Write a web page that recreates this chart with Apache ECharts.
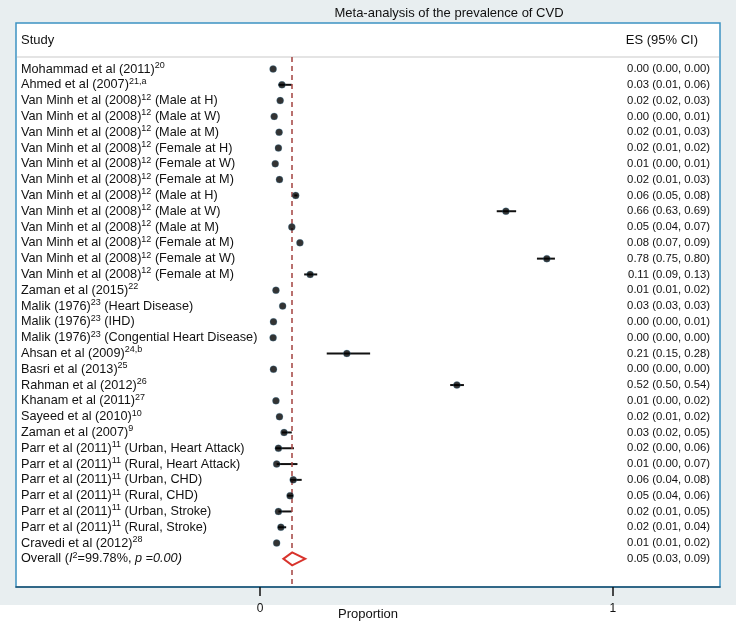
<!DOCTYPE html>
<html>
<head>
<meta charset="utf-8">
<script src="https://cdn.jsdelivr.net/npm/echarts@6/dist/echarts.min.js"></script>
<style>
  html, body { margin: 0; padding: 0; background: #ffffff; }
  #main { width: 736px; height: 622px; }
</style>
</head>
<body>
<div id="main"></div>
<script>
// study labels: name, superscript reference, subgroup note
var studyNames = [
    'Mohammad et al (2011)', 'Ahmed et al (2007)',
    'Van Minh et al (2008)', 'Van Minh et al (2008)', 'Van Minh et al (2008)',
    'Van Minh et al (2008)', 'Van Minh et al (2008)', 'Van Minh et al (2008)',
    'Van Minh et al (2008)', 'Van Minh et al (2008)', 'Van Minh et al (2008)',
    'Van Minh et al (2008)', 'Van Minh et al (2008)', 'Van Minh et al (2008)',
    'Zaman et al (2015)', 'Malik (1976)', 'Malik (1976)', 'Malik (1976)',
    'Ahsan et al (2009)', 'Basri et al (2013)', 'Rahman et al (2012)',
    'Khanam et al (2011)', 'Sayeed et al (2010)', 'Zaman et al (2007)',
    'Parr et al (2011)', 'Parr et al (2011)', 'Parr et al (2011)',
    'Parr et al (2011)', 'Parr et al (2011)', 'Parr et al (2011)',
    'Cravedi et al (2012)'
];
var studyRefs = ['20', '21,a', '12', '12', '12', '12', '12', '12', '12', '12', '12', '12', '12', '12',
    '22', '23', '23', '23', '24,b', '25', '26', '27', '10', '9', '11', '11', '11', '11', '11', '11', '28'];
var studyNotes = ['', '', ' (Male at H)', ' (Male at W)', ' (Male at M)', ' (Female at H)',
    ' (Female at W)', ' (Female at M)', ' (Male at H)', ' (Male at W)', ' (Male at M)',
    ' (Female at M)', ' (Female at W)', ' (Female at M)', '', ' (Heart Disease)', ' (IHD)',
    ' (Congential Heart Disease)', '', '', '', '', '', '', ' (Urban, Heart Attack)',
    ' (Rural, Heart Attack)', ' (Urban, CHD)', ' (Rural, CHD)', ' (Urban, Stroke)',
    ' (Rural, Stroke)', ''];

// ES (95% CI) column, last entry is the overall estimate
var esVals = [0.00, 0.03, 0.02, 0.00, 0.02, 0.02, 0.01, 0.02, 0.06, 0.66, 0.05, 0.08, 0.78, 0.11, 0.01, 0.03,
    0.00, 0.00, 0.21, 0.00, 0.52, 0.01, 0.02, 0.03, 0.02, 0.01, 0.06, 0.05, 0.02, 0.02, 0.01, 0.05];
var ciLow = [0.00, 0.01, 0.02, 0.00, 0.01, 0.01, 0.00, 0.01, 0.05, 0.63, 0.04, 0.07, 0.75, 0.09, 0.01, 0.03,
    0.00, 0.00, 0.15, 0.00, 0.50, 0.00, 0.01, 0.02, 0.00, 0.00, 0.04, 0.04, 0.01, 0.01, 0.01, 0.03];
var ciHigh = [0.00, 0.06, 0.03, 0.01, 0.03, 0.02, 0.01, 0.03, 0.08, 0.69, 0.07, 0.09, 0.80, 0.13, 0.02, 0.03,
    0.01, 0.00, 0.28, 0.00, 0.54, 0.02, 0.02, 0.05, 0.06, 0.07, 0.08, 0.06, 0.05, 0.04, 0.02, 0.09];

// marker positions as drawn on the plot
var markX = [0.037, 0.062, 0.057, 0.040, 0.054, 0.052, 0.043, 0.055, 0.101, 0.697, 0.090, 0.113, 0.813, 0.142,
    0.045, 0.064, 0.038, 0.037, 0.246, 0.038, 0.558, 0.045, 0.055, 0.068, 0.052, 0.047, 0.094, 0.085,
    0.052, 0.059, 0.047];
var markLo = [0.037, 0.052, 0.057, 0.040, 0.054, 0.052, 0.043, 0.055, 0.097, 0.671, 0.090, 0.113, 0.785, 0.125,
    0.045, 0.064, 0.038, 0.037, 0.189, 0.038, 0.539, 0.045, 0.055, 0.062, 0.043, 0.047, 0.085, 0.077,
    0.052, 0.051, 0.047];
var markHi = [0.037, 0.090, 0.057, 0.040, 0.054, 0.052, 0.043, 0.055, 0.106, 0.726, 0.090, 0.113, 0.836, 0.162,
    0.045, 0.064, 0.038, 0.037, 0.312, 0.038, 0.578, 0.045, 0.055, 0.090, 0.096, 0.106, 0.118, 0.094,
    0.090, 0.074, 0.047];
var overallMark = [0.066, 0.091, 0.128];
var refLine = 0.09;
var xTicks = [0, 1];

var rowCount = esVals.length;
var overallRow = rowCount - 1;
var font = 'Liberation Sans, Arial, sans-serif';

var myChart = echarts.init(document.getElementById('main'));

var pointData = markX.map(function (x, i) { return [x, i]; });
var ciData = markX.map(function (x, i) { return [markLo[i], markHi[i], i]; });
var rowData = esVals.map(function (v, i) { return [0, i]; });

var option = {
    backgroundColor: '#ffffff',
    animation: false,
    title: {
        text: 'Meta-analysis of the prevalence of CVD',
        left: 444, textAlign: 'center', top: 2,
        textStyle: { fontFamily: font, fontSize: 13, fontWeight: 'normal', color: '#111' }
    },
    graphic: [
        { type: 'rect', z: -10, shape: { x: 0, y: 0, width: 736, height: 605 }, style: { fill: '#e8eef0' } },
        { type: 'rect', z: -9, shape: { x: 16, y: 23, width: 704, height: 564 },
          style: { fill: '#ffffff', stroke: '#3d93c2', lineWidth: 1.5 } },
        { type: 'line', z: -8, shape: { x1: 17, y1: 57, x2: 719, y2: 57 }, style: { stroke: '#c9c9c9', lineWidth: 1 } },
        { type: 'text', x: 21, y: 40, style: { text: 'Study', font: '13px ' + font, fill: '#111', verticalAlign: 'middle' } },
        { type: 'text', x: 698, y: 40, style: { text: 'ES (95% CI)', font: '13px ' + font, fill: '#111', align: 'right', verticalAlign: 'middle' } }
    ],
    grid: { left: 16, right: 16, top: 57, bottom: 35, outerBoundsMode: 'none', containLabel: false },
    xAxis: {
        type: 'value', min: -0.692, max: 1.304,
        splitLine: { show: false },
        axisLine: { onZero: false, lineStyle: { color: '#1f5270', width: 1.5 } },
        axisTick: { customValues: xTicks, length: 9, lineStyle: { color: '#111', width: 1.5 } },
        axisLabel: { customValues: xTicks, margin: 16, color: '#111', fontFamily: font, fontSize: 12 },
        name: 'Proportion', nameLocation: 'middle', nameGap: 21, nameMoveOverlap: false,
        nameTextStyle: { fontFamily: font, fontSize: 13, color: '#111', verticalAlign: 'top' }
    },
    yAxis: { type: 'value', inverse: true, min: -0.76, max: 32.78, show: false },
    series: [
        {
            type: 'custom', name: 'labels', z: 3,
            data: rowData,
            renderItem: function (params, api) {
                var i = params.dataIndex;
                var y = api.coord([0, i])[1];
                var left;
                if (i === overallRow) {
                    left = '{n|Overall (}{i|I}{s|2}{n|=99.78%, }{i|p =0.00)}';
                } else {
                    left = '{n|' + studyNames[i] + '}{s|' + studyRefs[i] + '}{n|' + studyNotes[i] + '}';
                }
                var right = esVals[i].toFixed(2) + ' (' + ciLow[i].toFixed(2) + ', ' + ciHigh[i].toFixed(2) + ')';
                return {
                    type: 'group',
                    children: [
                        { type: 'text', x: 21, y: y, style: {
                            text: left, verticalAlign: 'middle', fill: '#111',
                            rich: {
                                n: { fontFamily: font, fontSize: 12.7, color: '#111' },
                                i: { fontFamily: font, fontSize: 12.7, fontStyle: 'italic', color: '#111' },
                                s: { fontFamily: font, fontSize: 9, color: '#111', padding: [0, 0, 7, 0] }
                            }
                        } },
                        { type: 'text', x: 710, y: y, style: {
                            text: right, align: 'right', verticalAlign: 'middle',
                            font: '11.3px ' + font, fill: '#111'
                        } }
                    ]
                };
            }
        },
        {
            type: 'custom', name: 'ci', z: 4,
            data: ciData,
            renderItem: function (params, api) {
                var a = api.coord([api.value(0), api.value(2)]);
                var b = api.coord([api.value(1), api.value(2)]);
                return { type: 'line', shape: { x1: a[0], y1: a[1], x2: b[0], y2: b[1] },
                    style: { stroke: '#111', lineWidth: 2 } };
            }
        },
        {
            type: 'scatter', name: 'ES', z: 5,
            data: pointData,
            symbol: 'circle', symbolSize: 7,
            itemStyle: { color: '#000000', borderColor: 'rgba(60,140,190,0.4)', borderWidth: 0.8 },
            markLine: {
                silent: true, symbol: ['none', 'none'], label: { show: false },
                lineStyle: { type: [5, 4], color: '#a3423f', width: 1.5 },
                data: [{ xAxis: refLine }]
            }
        },
        {
            type: 'custom', name: 'overall', z: 6,
            data: [[overallMark[0], overallMark[1], overallMark[2], overallRow]],
            renderItem: function (params, api) {
                var r = api.value(3);
                var l = api.coord([api.value(0), r]);
                var m = api.coord([api.value(1), r]);
                var h = api.coord([api.value(2), r]);
                var half = 6.5;
                return { type: 'polygon',
                    shape: { points: [[l[0], l[1]], [m[0], m[1] - half], [h[0], h[1]], [m[0], m[1] + half]] },
                    style: { fill: '#ffffff', stroke: '#d8332c', lineWidth: 2 } };
            }
        }
    ]
};

myChart.setOption(option);
</script>
</body>
</html>
